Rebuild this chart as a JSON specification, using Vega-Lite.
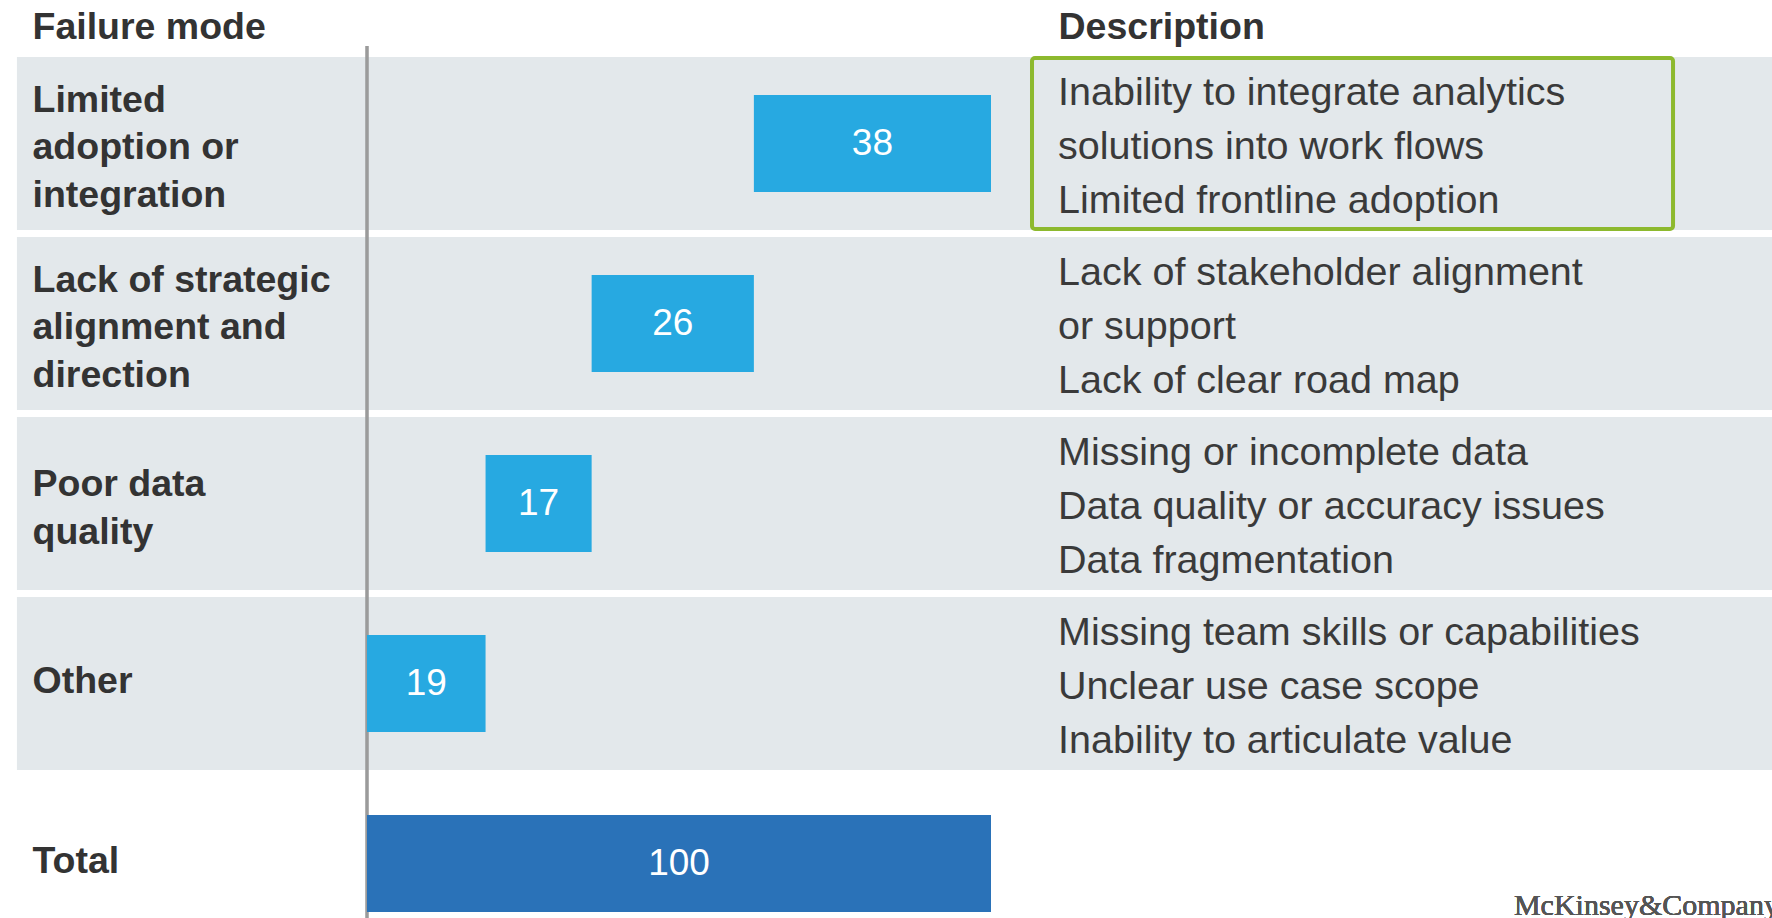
{
  "$schema": "https://vega.github.io/schema/vega-lite/v6.json",
  "width": 624,
  "height": 872,
  "autosize": {"type": "none"},
  "padding": {"left": 367, "right": 781, "top": 46, "bottom": 0},
  "background": "white",
  "config": {"view": {"stroke": null}, "font": "Liberation Sans"},
  "data": {"values": [
    {"mode": "Limited adoption or integration", "start": 62, "end": 100, "value": 38, "kind": "part", "desc": "Inability to integrate analytics\nsolutions into work flows\nLimited frontline adoption"},
    {"mode": "Lack of strategic alignment and direction", "start": 36, "end": 62, "value": 26, "kind": "part", "desc": "Lack of stakeholder alignment\nor support\nLack of clear road map"},
    {"mode": "Poor data quality", "start": 19, "end": 36, "value": 17, "kind": "part", "desc": "Missing or incomplete data\nData quality or accuracy issues\nData fragmentation"},
    {"mode": "Other", "start": 0, "end": 19, "value": 19, "kind": "part", "desc": "Missing team skills or capabilities\nUnclear use case scope\nInability to articulate value"},
    {"mode": "Total", "start": 0, "end": 100, "value": 100, "kind": "total", "desc": ""}
  ]},
  "layer": [
    {
      "transform": [{"filter": "datum.kind == 'part'"}],
      "mark": {"type": "bar", "color": "#E3E8EB", "height": {"band": 0.96}},
      "encoding": {
        "y": {
          "field": "mode", "type": "nominal",
          "sort": null,
          "scale": {
            "domain": ["Limited adoption or integration", "Lack of strategic alignment and direction", "Poor data quality", "Other", "Total"],
            "range": [7.5, 907.5], "paddingInner": 0, "paddingOuter": 0
          },
          "axis": {
            "zindex": 2,
            "title": "Failure mode", "titleX": -335, "titleY": -19, "titleAngle": 0,
            "titleAlign": "left", "titleBaseline": "middle", "titleFontSize": 37.5,
            "titleFontWeight": "bold", "titleColor": "#333333", "titleFont": "Liberation Sans",
            "labelAlign": "left", "labelPadding": 335, "labelBaseline": "middle",
            "labelFontSize": 37.5, "labelFontWeight": "bold", "labelColor": "#333333",
            "labelFont": "Liberation Sans", "labelLimit": 600, "labelLineHeight": 47.5,
            "labelOffset": {
              "condition": [
                {"test": "datum.value == 'Poor data quality'", "value": -18.5},
                {"test": "datum.value == 'Other' || datum.value == 'Total'", "value": -1.5}
              ],
              "value": -43
            },
            "ticks": false, "tickSize": 0, "domain": false, "grid": false,
            "labelExpr": "datum.value == 'Limited adoption or integration' ? ['Limited', 'adoption or', 'integration'] : datum.value == 'Lack of strategic alignment and direction' ? ['Lack of strategic', 'alignment and', 'direction'] : datum.value == 'Poor data quality' ? ['Poor data', 'quality'] : datum.label"
          }
        },
        "x": {
          "datum": -56.1, "type": "quantitative",
          "scale": {"domain": [0, 100], "nice": false, "zero": false},
          "axis": {
            "zindex": 2,
            "orient": "top", "title": "Description", "labels": false, "ticks": false,
            "domain": false, "grid": false, "titleX": 691, "titleY": -19,
            "titleAlign": "left", "titleBaseline": "middle", "titleAngle": 0,
            "titleFontSize": 37.5, "titleFontWeight": "bold", "titleColor": "#333333",
            "titleFont": "Liberation Sans"
          }
        },
        "x2": {"datum": 225.2}
      }
    },
    {
      "mark": {"type": "rule", "color": "#9b9b9b", "strokeWidth": 2.5},
      "encoding": {"x": {"datum": 0, "type": "quantitative"}}
    },
    {
      "mark": {"type": "bar", "height": {"band": 0.54}},
      "encoding": {
        "y": {"field": "mode", "type": "nominal", "sort": null},
        "x": {"field": "start", "type": "quantitative"},
        "x2": {"field": "end"},
        "color": {
          "field": "kind", "type": "nominal",
          "scale": {"domain": ["part", "total"], "range": ["#27A9E1", "#2A72B8"]},
          "legend": null
        }
      }
    },
    {
      "transform": [{"calculate": "(datum.start + datum.end) / 2", "as": "mid"}],
      "mark": {"type": "text", "color": "white", "fontSize": 37, "font": "Liberation Sans", "align": "center", "baseline": "middle"},
      "encoding": {
        "y": {"field": "mode", "type": "nominal", "sort": null},
        "x": {"field": "mid", "type": "quantitative"},
        "text": {"field": "value", "type": "quantitative"}
      }
    },
    {
      "transform": [{"filter": "datum.kind == 'part'"}],
      "mark": {"type": "text", "align": "left", "baseline": "middle", "lineBreak": "\n", "lineHeight": 54, "fontSize": 39.5, "font": "Liberation Sans", "color": "#3a3a3a", "dy": -51},
      "encoding": {
        "y": {"field": "mode", "type": "nominal", "sort": null},
        "x": {"datum": 110.74, "type": "quantitative"},
        "text": {"field": "desc", "type": "nominal"}
      }
    },
    {
      "transform": [{"filter": "datum.mode == 'Limited adoption or integration'"}],
      "mark": {"type": "bar", "fill": null, "fillOpacity": 0, "stroke": "#8DB92E", "strokeWidth": 4, "cornerRadius": 3, "height": {"band": 0.95}},
      "encoding": {
        "y": {"field": "mode", "type": "nominal", "sort": null},
        "x": {"datum": 106.57, "type": "quantitative"},
        "x2": {"datum": 209.3}
      }
    },
    {
      "mark": {"type": "text", "text": "McKinsey&Company", "font": "Liberation Serif", "fontSize": 30, "color": "#555555", "align": "left", "baseline": "alphabetic"},
      "encoding": {
        "x": {"datum": 183.8, "type": "quantitative"},
        "y": {"datum": "Total", "type": "nominal", "bandPosition": 0.786}
      }
    }
  ]
}
